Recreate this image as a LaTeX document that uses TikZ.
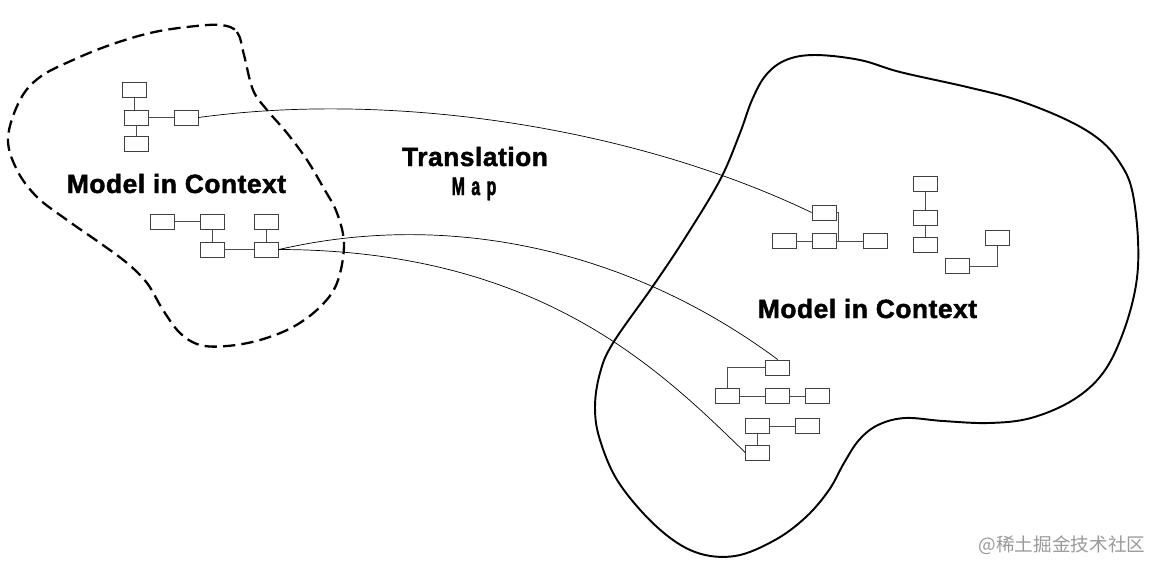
\documentclass[tikz,border=0pt]{standalone}
\usepackage{fontspec}
\setmainfont{Liberation Sans}
\newfontfamily\cjk{Noto Sans CJK SC}
\newfontfamily\heavyfont[FakeBold=1.6,LetterSpace=2]{Liberation Sans Bold}
\newfontfamily\narrowfont[FakeStretch=0.62,FakeBold=1.6]{Liberation Sans Bold}
\tikzset{
	box/.style={draw=black!75,line width=0.55pt,rectangle,minimum width=0.48cm,minimum height=0.3cm,inner sep=0pt},
	wire/.style={draw=black!70,line width=0.55pt},
	map/.style={line width=0.4pt},
	title/.style={font=\heavyfont\fontsize{15}{18}\selectfont,inner sep=0pt,anchor=base},
	ctx/.style={line width=1.1pt,line join=round},
	dashctx/.style={line width=1.3pt,dash pattern=on 7pt off 3.5pt}
}

\begin{document}
\begin{tikzpicture}[x=0.02cm,y=-0.02cm]
	\useasboundingbox (0,0) rectangle (1160,572);
	% the two contexts
	\draw[dashctx] plot[smooth cycle,tension=0.6] coordinates {(220,25) (237,32) (244,55) (253,90) (267,110) (287,133) (307,160) (323,187) (337,213) (344,245) (337,283) (320,307) (293,327) (260,340) (227,346) (200,345) (180,333) (163,310) (147,283) (127,263) (100,243) (67,220) (37,197) (17,170) (8,138) (20,100) (40,77) (73,60) (110,45) (150,33) (187,27)};
	\draw[ctx] plot[smooth cycle,tension=0.6] coordinates {(815,55) (860,60) (900,72) (967,87) (1017,100) (1067,120) (1100,140) (1120,163) (1132,190) (1138,240) (1136,285) (1123,333) (1103,373) (1073,400) (1031,418) (989,423) (943,421) (905,418) (878,425) (859,440) (844,463) (829,490) (806,517) (775,540) (735,556) (695,552) (657,527) (619,483) (600,440) (595,407) (600,373) (613,343) (653,286) (685,238) (720,180) (740,133) (752,100) (766,75) (786,60)};

	% left model
	\node[box] (a1) at (134,89.5) {};
	\node[box] (a2) at (136,117.5) {};
	\node[box] (a3) at (136,144) {};
	\node[box] (a4) at (186,117.5) {};
	\draw[wire] (a1.south) -- (a1.south |- a2.north);
	\draw[wire] (a2) -- (a3);
	\draw[wire] (a2) -- (a4);

	\node[box] (b1) at (162,221.5) {};
	\node[box] (b2) at (212,221.5) {};
	\node[box] (b3) at (266.5,221.5) {};
	\node[box] (b4) at (212,249.5) {};
	\node[box] (b5) at (266.5,249.5) {};
	\draw[wire] (b1) -- (b2) -- (b4) -- (b5) -- (b3);

	\node[title] (lctx) at (176.5,193) {Model in Context};

	% right model
	\node[box] (c1) at (824,212.5) {};
	\node[box] (c2) at (784,241) {};
	\node[box] (c3) at (824,241) {};
	\node[box] (c4) at (875,241) {};
	\draw[wire] (c2) -- (c3) -- (c4);
	\draw[wire] (c1.east) -- ++(2,0) |- (c4.west);

	\node[box] (d1) at (925,184) {};
	\node[box] (d2) at (925,218) {};
	\node[box] (d3) at (925,244.5) {};
	\draw[wire] (d1) -- (d2) -- (d3);

	\node[box] (e1) at (997.5,238) {};
	\node[box] (e2) at (957,266) {};
	\draw[wire] (e2.east) -| (e1.south);

	\node[box] (f1) at (777.7,367.5) {};
	\node[box] (f2) at (727.7,396) {};
	\node[box] (f3) at (777.7,396) {};
	\node[box] (f4) at (817.3,396) {};
	\draw[wire] (f1.west) -| (f2.north);
	\draw[wire] (f2) -- (f3) -- (f4);

	\node[box] (g1) at (757.7,426) {};
	\node[box] (g2) at (807.7,426) {};
	\node[box] (g3) at (757.7,452.5) {};
	\draw[wire] (g2) -- (g1) -- (g3);

	\node[title] (rctx) at (867.5,318) {Model in Context};

	% translation map
	\node[title] (trans) at (475,166) {Translation};
	\node[inner sep=0pt,anchor=base] (tmap) at (474,195) {\narrowfont\fontsize{14.5}{16}\selectfont M\hspace{0.13cm}a\hspace{0.13cm}p};
	\draw[map] (a4.east) .. controls (400,90) and (640,130) .. (c1.west);
	\draw[map] (b5.east) .. controls (450,210) and (630,250) .. (f1.north);
	\draw[map] (b5.east) .. controls (540,250) and (660,370) .. (g3.west);

	\node[text=black!40,font=\cjk\fontsize{10.6}{13}\selectfont] (mark) at (1062,545) {@稀土掘金技术社区};
\end{tikzpicture}
\end{document}
